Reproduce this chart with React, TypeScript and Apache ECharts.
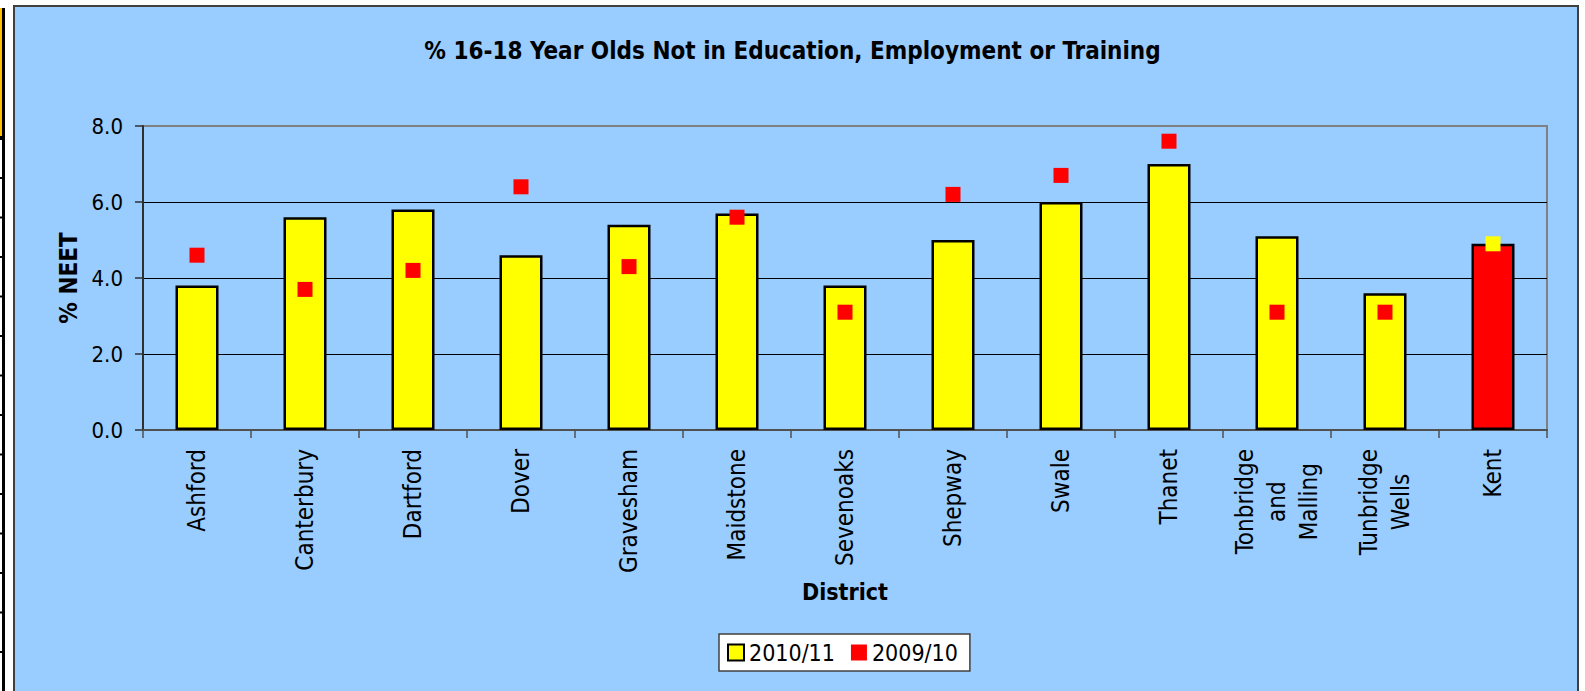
import React, { useEffect, useRef } from "react";
import * as echarts from "echarts";

const districts = [
  "Ashford",
  "Canterbury",
  "Dartford",
  "Dover",
  "Gravesham",
  "Maidstone",
  "Sevenoaks",
  "Shepway",
  "Swale",
  "Thanet",
  "Tonbridge\nand\nMalling",
  "Tunbridge\nWells",
  "Kent",
];
const neet201011 = [3.8, 5.6, 5.8, 4.6, 5.4, 5.7, 3.8, 5.0, 6.0, 7.0, 5.1, 3.6, 4.9];
const neet200910 = [4.6, 3.7, 4.2, 6.4, 4.3, 5.6, 3.1, 6.2, 6.7, 7.6, 3.1, 3.1, 4.9];
const yMin = 0;
const yMax = 8;
const yStep = 2;
const highlight = "Kent";
const seriesNames = ["2010/11", "2009/10"];
const titleText = "% 16-18 Year Olds Not in Education, Employment or Training";
const yName = "% NEET";
const xName = "District";

const FONT = "'DejaVu Sans Condensed', 'DejaVu Sans', sans-serif";
const sheetLines = [138.5, 178, 217.5, 257, 296.5, 336, 375.5, 415, 454.5, 494, 533.5, 573, 612.5, 652];

export default function App() {
  const ref = useRef<HTMLDivElement>(null);
  useEffect(() => {
    if (!ref.current) return;
    const chart = echarts.init(ref.current, null, { renderer: "svg" });
    const graphics: any[] = [
      { type: "rect", shape: { x: 0, y: 0, width: 1585, height: 6 }, style: { fill: "#fff" }, silent: true },
      { type: "rect", shape: { x: 0, y: 0, width: 14, height: 691 }, style: { fill: "#fff" }, silent: true },
      { type: "rect", shape: { x: 1578, y: 0, width: 7, height: 691 }, style: { fill: "#fff" }, silent: true },
      {
        type: "rect",
        shape: { x: 14, y: 6, width: 1564, height: 686 },
        style: { fill: "none", stroke: "#404040", lineWidth: 2 },
        silent: true,
      },
      { type: "rect", shape: { x: 0, y: 8, width: 2, height: 129 }, style: { fill: "#FFC000" }, silent: true },
      { type: "rect", shape: { x: 2, y: 8, width: 3, height: 683 }, style: { fill: "#000" }, silent: true },
      { type: "rect", shape: { x: 0, y: 136, width: 5, height: 4 }, style: { fill: "#000" }, silent: true },
      ...sheetLines.slice(1).map((y) => ({
        type: "rect",
        shape: { x: 0, y: y - 1, width: 5, height: 2 },
        style: { fill: "#000" },
        silent: true,
      })),
    ];
    chart.setOption({
      animation: false,
      backgroundColor: "#99CCFF",
      textStyle: { fontFamily: FONT },
      title: {
        text: titleText,
        left: "center",
        top: 34,
        textStyle: { fontFamily: FONT, fontSize: 24, fontWeight: "bold", color: "#000" },
      },
      graphic: graphics,
      grid: {
        left: 143,
        right: 38,
        top: 126,
        bottom: 261,
        show: true,
        backgroundColor: "transparent",
        borderColor: "#808080",
        borderWidth: 2,
      },
      legend: {
        left: 719,
        top: 634,
        orient: "horizontal",
        padding: [7, 12, 7, 8],
        itemGap: 16,
        itemWidth: 16,
        itemHeight: 16,
        icon: "rect",
        backgroundColor: "#fff",
        borderColor: "#404040",
        borderWidth: 1.5,
        borderRadius: 0,
        textStyle: { fontFamily: FONT, fontSize: 23, color: "#000" },
        data: [
          { name: seriesNames[0], itemStyle: { borderWidth: 2, borderColor: "#000" } },
          { name: seriesNames[1], itemStyle: { opacity: 1 } },
        ],
      },
      xAxis: {
        type: "category",
        data: districts,
        boundaryGap: true,
        name: xName,
        nameLocation: "middle",
        nameGap: 150,
        nameTextStyle: { fontFamily: FONT, fontSize: 23, fontWeight: "bold", color: "#000" },
        axisLine: { lineStyle: { color: "#505050", width: 2 } },
        axisTick: { show: true, interval: 0, length: 8, lineStyle: { color: "#505050", width: 1.5 } },
        axisLabel: {
          interval: 0,
          rotate: 90,
          margin: 19,
          hideOverlap: false,
          color: "#000",
          fontFamily: FONT,
          fontSize: 24,
          formatter: (v: string) => v.split("\n").map((s) => `{a|${s}}`).join("\n"),
          rich: {
            a: { align: "center", fontFamily: FONT, fontSize: 24, lineHeight: 32, color: "#000" },
          },
        },
        splitLine: { show: false },
      },
      yAxis: {
        type: "value",
        min: yMin,
        max: yMax,
        interval: yStep,
        name: yName,
        nameLocation: "middle",
        nameGap: 62,
        nameRotate: 90,
        nameTextStyle: { fontFamily: FONT, fontSize: 24, fontWeight: "bold", color: "#000" },
        axisLine: { show: true, lineStyle: { color: "#303030", width: 2 } },
        axisTick: { show: true, length: 8, lineStyle: { color: "#303030", width: 1.5 } },
        axisLabel: {
          margin: 20,
          color: "#000",
          fontFamily: FONT,
          fontSize: 22,
          formatter: (v: number) => v.toFixed(1),
        },
        splitLine: { show: true, showMinLine: false, showMaxLine: false, lineStyle: { color: "#000", width: 1 } },
      },
      series: [
        {
          name: seriesNames[0],
          type: "bar",
          barWidth: 43,
          z: 2,
          itemStyle: { color: "#FFFF00", borderColor: "#000", borderWidth: 2.5 },
          data: neet201011.map((v, i) =>
            districts[i] === highlight ? { value: v, itemStyle: { color: "#FF0000" } } : v
          ),
        },
        {
          name: seriesNames[1],
          type: "scatter",
          symbol: "rect",
          symbolSize: 15,
          z: 3,
          itemStyle: { color: "#FF0000", opacity: 1 },
          data: neet200910.map((v, i) =>
            districts[i] === highlight ? { value: v, itemStyle: { color: "#FFFF00", opacity: 1 } } : v
          ),
        },
      ],
    });
    return () => chart.dispose();
  }, []);
  return (
    <div
      ref={ref}
      style={{ position: "fixed", left: 0, top: 0, width: 1585, height: 691 }}
    />
  );
}
